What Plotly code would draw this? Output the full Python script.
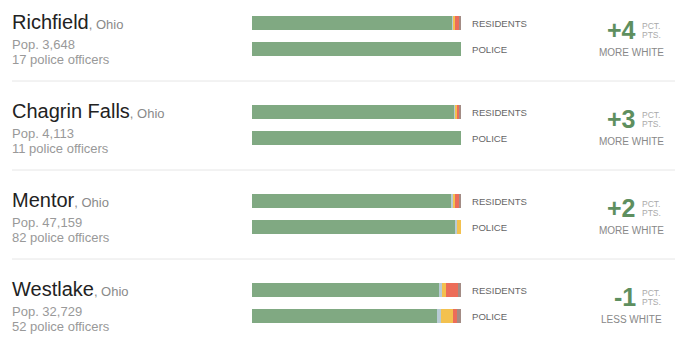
import plotly.graph_objects as go

cities = ["Richfield", "Chagrin Falls", "Mentor", "Westlake"]
state = "Ohio"
population = ["3,648", "4,113", "47,159", "32,729"]
officers = [17, 11, 82, 52]
diff_pts = [4, 3, 2, -1]

groups = ["White", "Asian", "Hispanic", "Black", "Other"]
colors = ["#80a982", "#b8cbd5", "#f3c14f", "#ec6d59", "#a38c85"]

# percent shares per city [white, asian, hispanic, black, other]
residents = [
    [96.0, 0.6, 0.6, 1.8, 1.0],
    [97.0, 0.3, 1.0, 1.0, 0.7],
    [95.0, 1.0, 1.3, 1.7, 1.0],
    [89.5, 1.5, 2.0, 5.7, 1.3],
]
police = [
    [100.0, 0.0, 0.0, 0.0, 0.0],
    [100.0, 0.0, 0.0, 0.0, 0.0],
    [97.0, 1.0, 2.0, 0.0, 0.0],
    [88.5, 1.7, 5.8, 2.0, 2.0],
]

W, H = 675, 348
PITCH = 89
FONT = "Liberation Sans, Arial, sans-serif"

fig = go.Figure()

ys_res = [23 + i * PITCH for i in range(len(cities))]
ys_pol = [49 + i * PITCH for i in range(len(cities))]

for g, (name, col) in enumerate(zip(groups, colors)):
    xs, ys = [], []
    for i in range(len(cities)):
        xs += [residents[i][g], police[i][g]]
        ys += [ys_res[i], ys_pol[i]]
    fig.add_trace(go.Bar(
        x=xs, y=ys, orientation="h", name=name,
        marker=dict(color=col, line=dict(width=0)),
        width=14, showlegend=False, hoverinfo="skip",
    ))

shapes = []
for i in range(1, len(cities)):
    yl = i * PITCH - 8
    shapes.append(dict(type="line", xref="paper", yref="y",
                       x0=12 / W, x1=1, y0=yl, y1=yl,
                       line=dict(color="#e6e6e6", width=1)))

ann = []
for i, c in enumerate(cities):
    base = i * PITCH
    ann.append(dict(xref="paper", yref="y", x=10 / W, y=base + 22, xanchor="left", yanchor="middle",
                    text=f"{c}<span style='font-size:13px;color:#8a8a8a'>, {state}</span>",
                    font=dict(family=FONT, size=20, color="#222"), showarrow=False))
    ann.append(dict(xref="paper", yref="y", x=10 / W, y=base + 44, xanchor="left", yanchor="middle",
                    text=f"Pop. {population[i]}",
                    font=dict(family=FONT, size=13, color="#999"), showarrow=False))
    ann.append(dict(xref="paper", yref="y", x=10 / W, y=base + 59, xanchor="left", yanchor="middle",
                    text=f"{officers[i]} police officers",
                    font=dict(family=FONT, size=13, color="#999"), showarrow=False))
    ann.append(dict(xref="paper", yref="y", x=470 / W, y=ys_res[i], xanchor="left", yanchor="middle",
                    text="RESIDENTS", font=dict(family=FONT, size=9.6, color="#666"), showarrow=False))
    ann.append(dict(xref="paper", yref="y", x=470 / W, y=ys_pol[i], xanchor="left", yanchor="middle",
                    text="POLICE", font=dict(family=FONT, size=9.6, color="#666"), showarrow=False))
    d = diff_pts[i]
    ann.append(dict(xref="paper", yref="y", x=638 / W, y=base + 30, xanchor="right", yanchor="middle",
                    text=f"<b>{'+' if d > 0 else '-'}{abs(d)}</b>",
                    font=dict(family=FONT, size=25, color="#5e8f5f"), showarrow=False))
    ann.append(dict(xref="paper", yref="y", x=640 / W, y=base + 26, xanchor="left", yanchor="middle",
                    text="PCT.", font=dict(family=FONT, size=8.5, color="#aaa"), showarrow=False))
    ann.append(dict(xref="paper", yref="y", x=640 / W, y=base + 35, xanchor="left", yanchor="middle",
                    text="PTS.", font=dict(family=FONT, size=8.5, color="#aaa"), showarrow=False))
    ann.append(dict(xref="paper", yref="y", x=631 / W, y=base + 52, xanchor="center", yanchor="middle",
                    text="MORE WHITE" if d > 0 else "LESS WHITE",
                    font=dict(family=FONT, size=10, color="#888"), showarrow=False))

fig.update_layout(
    width=W, height=H, margin=dict(l=0, r=0, t=0, b=0),
    paper_bgcolor="white", plot_bgcolor="white",
    barmode="stack", bargap=0,
    xaxis=dict(domain=[252 / W, 461 / W], range=[0, 100], visible=False, fixedrange=True),
    yaxis=dict(domain=[0, 1], range=[H, 0], visible=False, fixedrange=True),
    shapes=shapes, annotations=ann,
)

fig.write_html("out.html")
